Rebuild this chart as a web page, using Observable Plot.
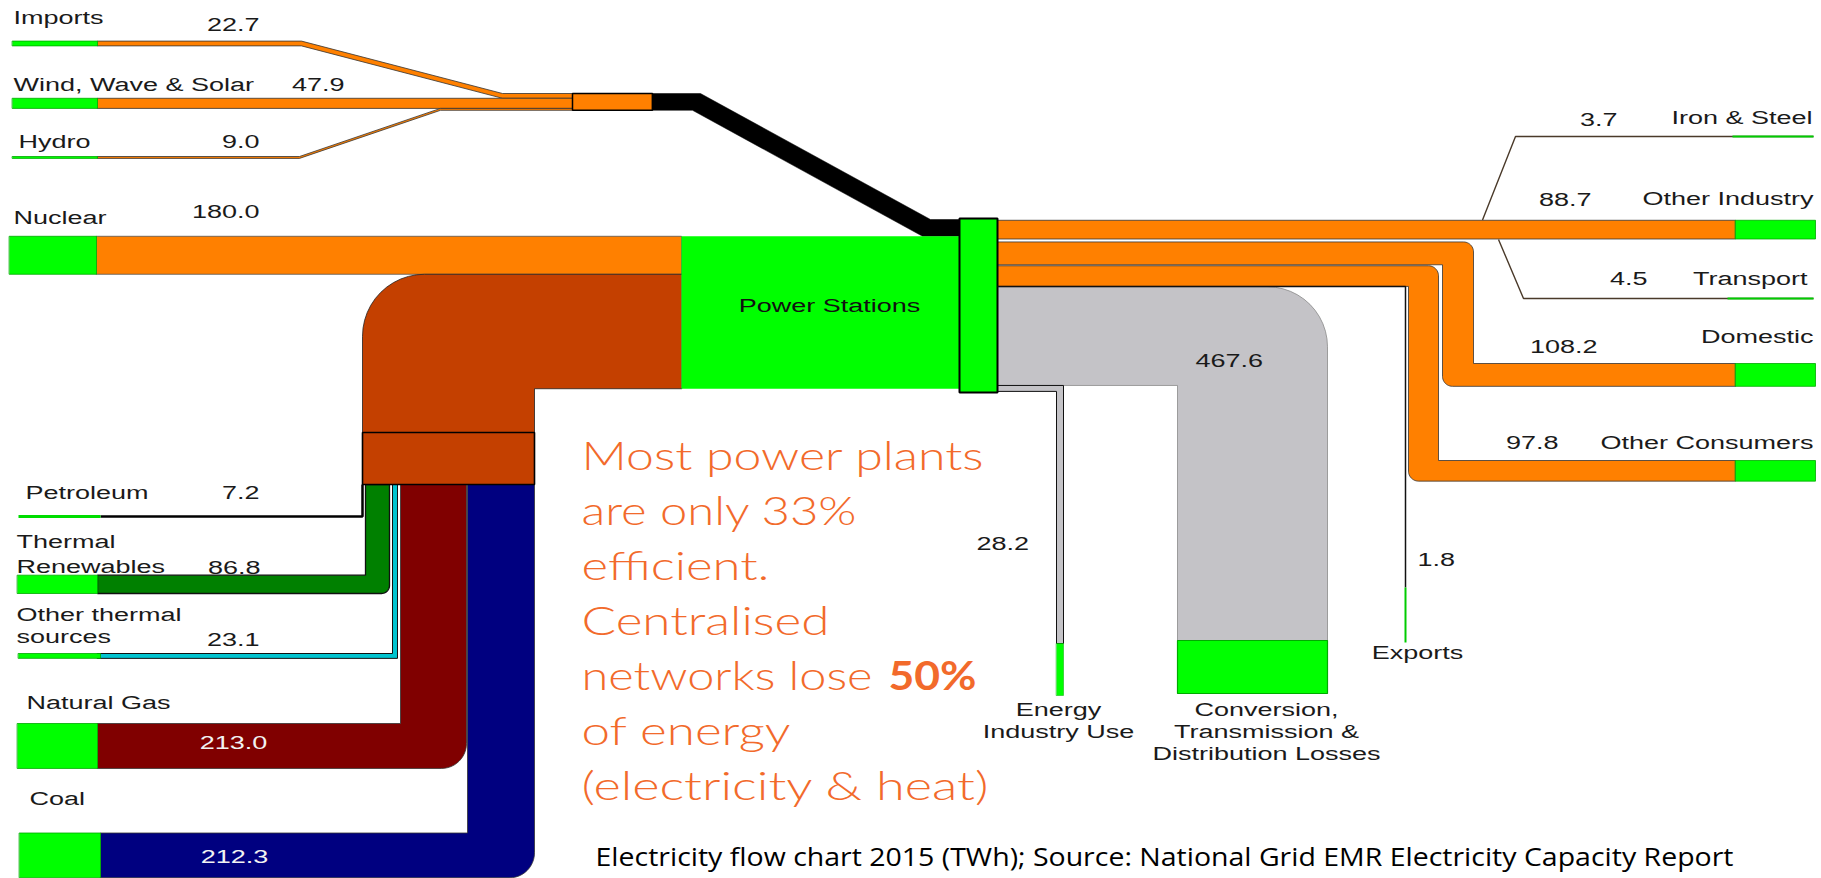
<!DOCTYPE html>
<html><head><meta charset="utf-8">
<script src="https://cdn.jsdelivr.net/npm/d3@7"></script>
<script src="https://cdn.jsdelivr.net/npm/@observablehq/plot@0.6"></script>
<style>html,body{margin:0;padding:0;background:#fff;overflow:hidden}</style>
</head><body><div id="chart"></div>
<script>
// ---------------- data ----------------
const sourceNames = ["Imports","Wind, Wave & Solar","Hydro","Nuclear","Petroleum","Thermal Renewables","Other thermal sources","Natural Gas","Coal"];
const sourceValues = [22.7, 47.9, 9.0, 180.0, 7.2, 86.8, 23.1, 213.0, 212.3];
const sourceLabels = ["Imports","Wind, Wave & Solar","Hydro","Nuclear","Petroleum","Thermal\nRenewables","Other thermal\nsources","Natural Gas","Coal"];
const useNames = ["Iron & Steel","Other Industry","Transport","Domestic","Other Consumers","Exports","Conversion, Transmission & Distribution Losses","Energy Industry Use"];
const useValues = [3.7, 88.7, 4.5, 108.2, 97.8, 1.8, 467.6, 28.2];
const useLabels = ["Iron & Steel","Other Industry","Transport","Domestic","Other Consumers","Exports","Conversion,\nTransmission &\nDistribution Losses","Energy\nIndustry Use"];
const hubName = "Power Stations";
const noteLines = ["Most power plants","are only 33%","efficient.","Centralised","networks lose","of energy","(electricity & heat)"];
const noteBold = "50%";
const caption = "Electricity flow chart 2015 (TWh); Source: National Grid EMR Electricity Capacity Report";

// ---------------- layout ----------------
const W = 1821, H = 878;
const K = 0.211;                       // px per TWh
const t = sourceValues.map(v => v * K);
const u = useValues.map(v => v * K);
const C = {orange:"#ff8000", green:"#00ff00", brown:"#c44000", tr:"#008000", cyan:"#00c4d0",
           gas:"#800000", coal:"#000080", grey:"#c4c3c7"};
const PI = Math.PI;
const shapes = [], strokes = [];
function poly(pts, fill, stroke = "#444", sw = 0.8) { shapes.push({pts, fill, stroke, sw}); }
function rect(x1, y1, x2, y2, fill, stroke = "#444", sw = 0.8) { poly([[x1,y1],[x2,y1],[x2,y2],[x1,y2]], fill, stroke, sw); }
function arc(cx, cy, r, a0, a1, n = 12) { const p = []; for (let i = 0; i <= n; i++) { const a = a0 + (a1 - a0) * i / n; p.push([cx + r * Math.cos(a), cy + r * Math.sin(a)]); } return p; }
function pl(pts, stroke, sw) { strokes.push({pts, stroke, sw}); }

const [tImp, tWind, tHyd, tNuc, tPet, tTR, tOT, tGas, tCoal] = t;
// --- renewables & imports group
const mTop = 93, yImp = 40.6, yHyd = 156;
poly([[97,yImp],[301,yImp],[502,mTop],[572,mTop],[572,mTop+tImp],[502,mTop+tImp],[301,yImp+tImp],[97,yImp+tImp]], C.orange, "#333");
rect(12, yImp, 97, yImp + tImp, C.green, "#0a0");
const yW = mTop + tImp;
rect(97, yW, 572, yW + tWind, C.orange, "#333");
rect(12, yW, 97, yW + tWind, C.green, "#0a0");
const yH2 = yW + tWind;
poly([[97,yHyd],[299,yHyd],[440,yH2],[572,yH2],[572,yH2+tHyd],[440,yH2+tHyd],[299,yHyd+tHyd],[97,yHyd+tHyd]], C.orange, "#333");
rect(12, yHyd, 97, yHyd + tHyd, C.green, "#0a0");
const tTop = tImp + tWind + tHyd;
rect(572, mTop, 652, mTop + tTop, C.orange, "#000", 1.5);
const boxTop = 219;
poly([[652,mTop],[700,mTop],[930,boxTop],[959,boxTop],[959,boxTop+tTop],[922,boxTop+tTop],[692,mTop+tTop],[652,mTop+tTop]], "#000", "#000", 0.5);

// --- nuclear
const psTop = boxTop + tTop;
rect(96, psTop, 681, psTop + tNuc, C.orange, "#555");
rect(9, psTop, 96, psTop + tNuc, C.green, "#0a0");

// --- thermal bend
const thTop = psTop + tNuc;
const thBot = thTop + tPet + tTR + tOT + tGas + tCoal;
const colL = 362, colR = 534, bY1 = 432, bY2 = 484;
poly([[681,thTop],[424,thTop], ...arc(424, thTop + 62, 62, -PI/2, -PI), [colL,bY1],[colR,bY1],[colR,thBot],[681,thBot]], C.brown, "#222");
// petroleum
pl([[100,516],[colL,516],[colL,bY2]], "#000", 2.5);
pl([[18,516],[100,516]], "#00dd00", 3);
// thermal renewables
const yTRb = 593, yTRt = yTRb - tTR;
poly([[97,yTRt],[365,yTRt],[365,bY2],[389,bY2], ...arc(381, yTRb - 8, 8, 0, PI/2), [97,yTRb]], C.tr, "#111", 1.3);
rect(17, yTRt, 97, yTRb, C.green, "#0a0");
// other thermal
const yOT = 653;
poly([[97,yOT],[392,yOT],[392,bY2],[397,bY2],[397,yOT+tOT],[97,yOT+tOT]], C.cyan, "#111", 1);
rect(18, yOT, 100, yOT + tOT, C.green, "#0a0");
// natural gas
const yG = 723;
poly([[97,yG],[400,yG],[400,bY2],[466,bY2], ...arc(441, yG + tGas - 25, 25, 0, PI/2), [97,yG+tGas]], C.gas, "#333");
rect(17, yG, 97, yG + tGas, C.green, "#0a0");
// coal
const yC = 832.5;
poly([[100,yC],[467,yC],[467,bY2],[534,bY2], ...arc(509, yC + tCoal - 25, 25, 0, PI/2), [100,yC+tCoal]], C.coal, "#333");
rect(19, yC, 100, yC + tCoal, C.green, "#0a0");
rect(colL, bY1, colR, bY2, C.brown, "#000", 1.6);

// --- power stations
rect(681, psTop, 959, thBot, C.green, "none", 0);

// --- outputs
const [uIS, uOI, uTr, uDom, uOC, uExp, uLoss, uEIU] = u;
let y = boxTop;
const yIS = y + uIS / 2; y += uIS;
const yOI = y; y += uOI; const yOIb = y;
const yTr = y + uTr / 2; y += uTr;
y += 2;
const yDom = y; y += uDom; const yDomB = y;
y += 1;
const yOC = y; y += uOC; const yOCb = y;
const yEx = y + uExp / 2; y += uExp;
const yLoss = y; y += uLoss; const yLossB = y;
const yE = y; y += uEIU; const yEb = y;

// losses
poly([[997,yLoss],[1267,yLoss], ...arc(1267, yLoss + 60, 60, -PI/2, 0), [1327,640],[1177,640],[1177,yLossB],[997,yLossB]], C.grey, "#8a8a8a");
rect(1177, 640, 1327, 693, C.green, "#0a0", 1.2);
// energy industry use
poly([[997,yE],[1063,yE],[1063,643],[1056,643],[1056,yEb],[997,yEb]], C.grey, "#111", 1);
rect(1056, 643, 1063, 695, C.green, "#0a0", 0.5);
// other consumers
const ocDown = 460;
poly([[997,yOC],[1428,yOC], ...arc(1428, yOC + 10, 10, -PI/2, 0), [1438,ocDown],[1735,ocDown],[1735,ocDown+uOC],[1418,ocDown+uOC], ...arc(1418, ocDown + uOC - 10, 10, PI/2, PI), [1408,yOCb],[997,yOCb]], C.orange, "#333");
rect(1735, ocDown, 1815, ocDown + uOC, C.green, "#0a0");
// domestic
const domDown = 363;
poly([[997,yDom],[1463,yDom], ...arc(1463, yDom + 10, 10, -PI/2, 0), [1473,domDown],[1735,domDown],[1735,domDown+uDom],[1452,domDown+uDom], ...arc(1452, domDown + uDom - 10, 10, PI/2, PI), [1442,yDomB],[997,yDomB]], C.orange, "#333");
rect(1735, domDown, 1815, domDown + uDom, C.green, "#0a0");
// other industry
rect(997, yOI, 1735, yOIb, C.orange, "#333");
rect(1735, yOI, 1815, yOIb, C.green, "#0a0");
// thin flows
pl([[1482,yIS],[1515,136],[1813,136]], "#4a3a2a", 1.4);
pl([[1732,136],[1813,136]], "#00cc00", 2);
pl([[1498,yTr],[1523,298],[1813,298]], "#4a3a2a", 1.4);
pl([[1727,298],[1813,298]], "#00cc00", 2);
pl([[997,yEx],[1405,yEx],[1405,587]], "#111", 1.5);
pl([[1405,587],[1405,642]], "#00cc00", 2);

// hub box
rect(959, 218, 997, 392, C.green, "#000", 2);

// ---------------- text layout ----------------
const fmt = d3.format(".1f");
const srcLabelPos = [[13,18],[13,85],[18,142],[13,218],[25,493],[16,542],[16,615],[26,703],[29,799]];
const srcValuePos = [[259,25,"end"],[344,85,"end"],[259,142,"end"],[259,212,"end"],[259,493,"end"],[260,568,"end"],[259,640,"end"],[233,743,"middle","#f2f2f2"],[234,857,"middle","#f2f2f2"]];
const useLabelPos = [[1812,118,"end"],[1813,199,"end"],[1807,279,"end"],[1813,337,"end"],[1813,443,"end"],[1417,653,"middle"],[1266,710,"middle"],[1058,710,"middle"]];
const useValuePos = [[1617,120,"end"],[1591,200,"end"],[1647,279,"end"],[1597,347,"end"],[1558,443,"end"],[1417,560,"start"],[1195,361,"start"],[976,544,"start"]];
const LH = 22;
const noteWidths = [402, 275, 188, 248, 291, 209, 407];   // rendered line lengths, px
const boldWidth = 88;

const labels = [];
sourceLabels.forEach((s, i) => s.split("\n").forEach((line, j) =>
  labels.push({text: line, x: srcLabelPos[i][0], y: srcLabelPos[i][1] + j * (i === 5 ? 25 : LH), anchor: "start", fill: "#1a1a1a"})));
sourceValues.forEach((v, i) => labels.push({text: fmt(v), x: srcValuePos[i][0], y: srcValuePos[i][1], anchor: srcValuePos[i][2], fill: srcValuePos[i][3] || "#1a1a1a"}));
useLabels.forEach((s, i) => s.split("\n").forEach((line, j) =>
  labels.push({text: line, x: useLabelPos[i][0], y: useLabelPos[i][1] + j * LH, anchor: useLabelPos[i][2], fill: "#1a1a1a"})));
useValues.forEach((v, i) => labels.push({text: fmt(v), x: useValuePos[i][0], y: useValuePos[i][1], anchor: useValuePos[i][2], fill: "#1a1a1a"}));
labels.push({text: hubName, x: 829, y: 306, anchor: "middle", fill: "#111"});

const notes = noteLines.map((s, i) => ({text: s, x: 581, y: 457 + 55 * i}));

// font families double as selectors for the post-render stretch
const F_LABEL = "Liberation Sans, Arial, sans-serif";
const F_NOTE = "Lato, sans-serif";
const F_BOLD = "Lato, Arial, sans-serif";
const F_CAP = "Open Sans, sans-serif";

// ---------------- plot ----------------
const marks = [];
shapes.forEach(s => marks.push(Plot.line(s.pts, {x: d => d[0], y: d => d[1], curve: "linear-closed",
  fill: s.fill, stroke: s.stroke, strokeWidth: s.sw, strokeLinejoin: "miter"})));
strokes.forEach(s => marks.push(Plot.line(s.pts, {x: d => d[0], y: d => d[1], stroke: s.stroke,
  strokeWidth: s.sw, strokeLinejoin: "miter", strokeLinecap: "butt"})));
["start","middle","end"].forEach(a => marks.push(Plot.text(labels.filter(d => d.anchor === a), {
  x: "x", y: "y", text: "text", fill: d => d.fill, textAnchor: a, lineAnchor: "middle",
  fontSize: 18, fontFamily: F_LABEL})));
marks.push(Plot.text(notes, {x: "x", y: "y", text: "text", textAnchor: "start", lineAnchor: "middle",
  fill: "#f26a2b", fontSize: 40, fontWeight: 300, fontFamily: F_NOTE}));
marks.push(Plot.text([{text: noteBold, x: 888, y: 457 + 55 * 4}], {x: "x", y: "y", text: "text", textAnchor: "start", lineAnchor: "middle",
  fill: "#f26a2b", fontSize: 40, fontWeight: 700, fontFamily: F_BOLD}));
marks.push(Plot.text([{text: caption, x: 595, y: 857}], {x: "x", y: "y", text: "text", textAnchor: "start", lineAnchor: "middle",
  fill: "#000", fontSize: 25, fontFamily: F_CAP}));

const svg = Plot.plot({
  width: W, height: H, margin: 0,
  x: {domain: [0, W], range: [0, W], axis: null},
  y: {domain: [0, H], range: [0, H], axis: null},
  style: {background: "#fff", overflow: "visible"},
  marks
});
document.getElementById("chart").appendChild(svg);

function textsOf(family) {
  return Array.from(svg.querySelectorAll("text")).filter(el => {
    const g = el.closest("[font-family]");
    return g && g.getAttribute("font-family") === family;
  });
}
function setLen(el, len) {
  el.setAttribute("textLength", len.toFixed(1));
  el.setAttribute("lengthAdjust", "spacingAndGlyphs");
}
try {
  textsOf(F_LABEL).forEach(el => setLen(el, el.getComputedTextLength() * 1.5));
  textsOf(F_NOTE).forEach((el, i) => setLen(el, noteWidths[i] || el.getComputedTextLength()));
  textsOf(F_BOLD).forEach(el => setLen(el, boldWidth));
  textsOf(F_CAP).forEach(el => setLen(el, 1138));
} catch (e) { console.error(e); }
</script></body></html>
